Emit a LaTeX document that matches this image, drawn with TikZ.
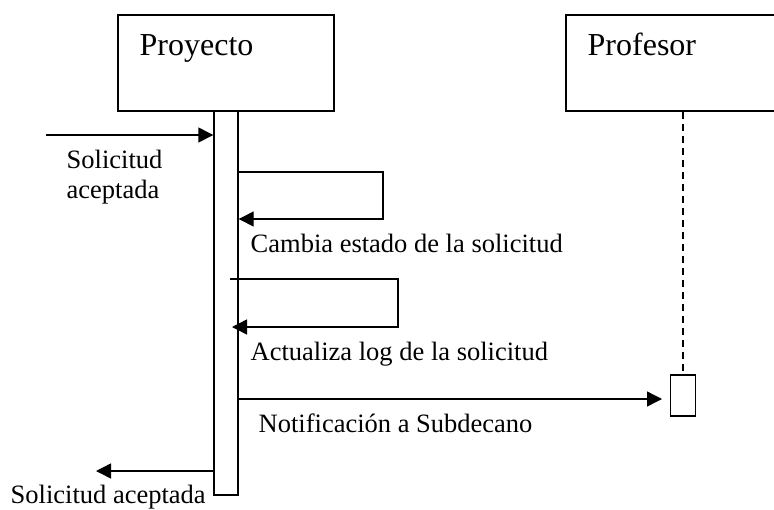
\documentclass[tikz,border=0pt]{standalone}
\usepackage{fontspec}
\setmainfont{Liberation Serif}
\usetikzlibrary{arrows.meta}
\begin{document}
\begin{tikzpicture}[x=1pt,y=-1pt, line width=1.4pt,
  obj/.style={draw, minimum height=96pt, inner sep=0pt},
  actbar/.style={draw, inner sep=0pt},
  lbl/.style={anchor=base west, inner sep=0pt, font=\fontsize{26.5}{30}\selectfont},
  ttl/.style={anchor=base west, inner sep=0pt, font=\fontsize{32}{36}\selectfont},
  msg/.style={-{Triangle[length=15pt,width=15pt]}},
  lifeline/.style={dash pattern=on 7pt off 5pt},
]
\useasboundingbox (0,0) rectangle (774,509);
\clip (0,0) rectangle (774,509);
% objects
\node[obj, minimum width=216pt] (proy) at (226,63) {};
\node[obj, minimum width=236pt] (prof) at (684,63) {};
\node[ttl] (proyT) at (139,55) {Proyecto};
\node[ttl] (profT) at (587,55) {Profesor};
% activations
\node[actbar, minimum width=24pt, minimum height=384pt] (bar) at (226,303) {};
\node[actbar, minimum width=25pt, minimum height=41pt] (sact) at (683,395.5) {};
\draw[lifeline] (prof.south -| sact.north) -- (sact.north);
% incoming
\coordinate (inS) at (46,135);
\draw[msg] (inS) -- (inS -| bar.west);
\node[lbl] (l1) at (66,168) {Solicitud};
\node[lbl] (l1b) at (66,198) {aceptada};
% self call 1
\coordinate (s1) at (383,172);
\coordinate (s1b) at (383,219);
\draw[msg] (bar.east |- s1) -- (s1) -- (s1b) -- (bar.east |- s1b);
\node[lbl] (l2) at (250,252) {Cambia estado de la solicitud};
% self call 2
\coordinate (s2a) at (230,279);
\coordinate (s2) at (398,279);
\coordinate (s2b) at (398,327);
\coordinate (s2e) at (232,327);
\draw[msg] (s2a) -- (s2) -- (s2b) -- (s2e);
\node[lbl] (l3) at (250,360) {Actualiza log de la solicitud};
% notification
\coordinate (nEnd) at (662,399);
\draw[msg] (bar.east |- nEnd) -- (nEnd);
\node[lbl] (l4) at (258,432) {Notificación a Subdecano};
% return
\coordinate (rEnd) at (96,471);
\draw[msg] (bar.west |- rEnd) -- (rEnd);
\node[lbl] (l5) at (10,503) {Solicitud aceptada};
\end{tikzpicture}
\end{document}
